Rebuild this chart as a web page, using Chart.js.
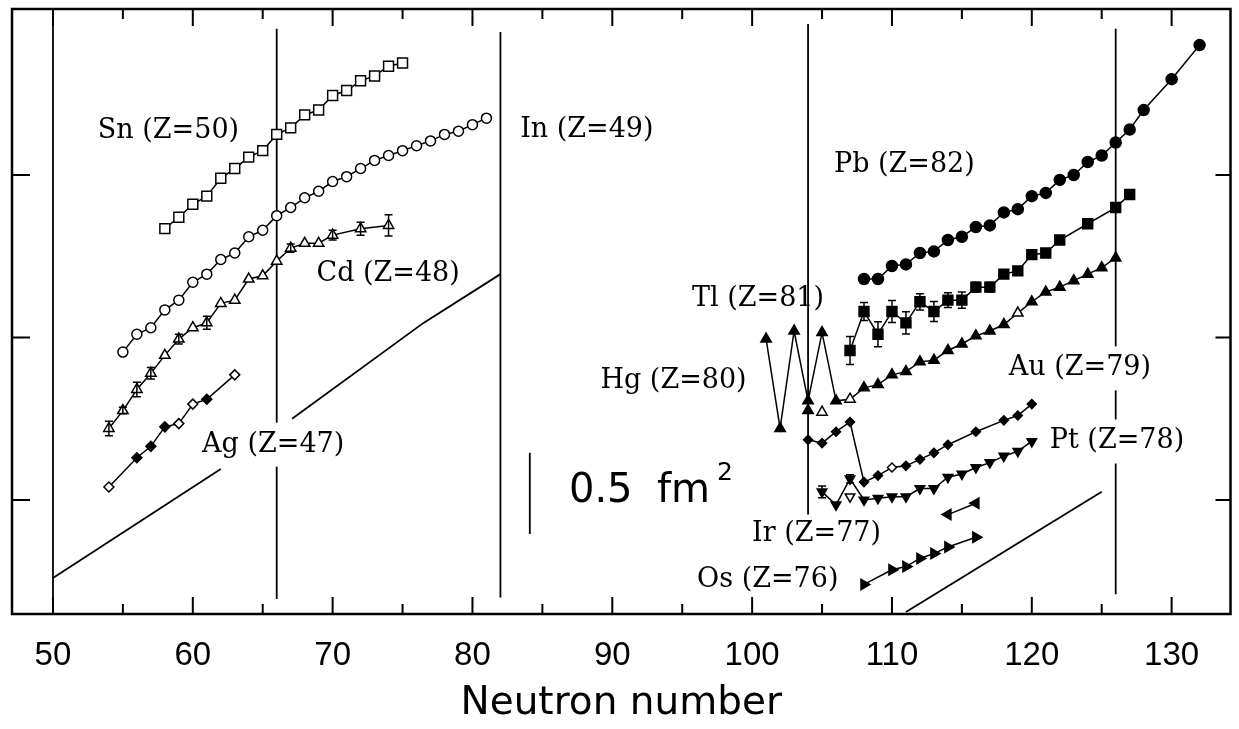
<!DOCTYPE html>
<html>
<head>
<meta charset="utf-8">
<script src="https://cdn.jsdelivr.net/npm/chart.js"></script>
<style>
  html, body { margin: 0; padding: 0; background: #fff; }
</style>
</head>
<body>
<canvas id="chart" width="1239" height="729"></canvas>
<script>
// charge radii differences vs neutron number (fm^2, arbitrary offsets)
var snN = [58, 59, 60, 61, 62, 63, 64, 65, 66, 67, 68, 69, 70, 71, 72, 73, 74, 75];
var snY = [2.67, 2.74, 2.82, 2.87, 2.98, 3.04, 3.11, 3.15, 3.25, 3.29, 3.37, 3.40, 3.49, 3.52, 3.58, 3.61, 3.67, 3.69];

var inN = [55, 56, 57, 58, 59, 60, 61, 62, 63, 64, 65, 66, 67, 68, 69, 70, 71, 72, 73, 74, 75, 76, 77, 78, 79, 80, 81];
var inY = [1.91, 2.02, 2.06, 2.17, 2.23, 2.34, 2.39, 2.48, 2.52, 2.62, 2.66, 2.75, 2.80, 2.86, 2.90, 2.96, 2.99, 3.04, 3.09, 3.12, 3.15, 3.18, 3.21, 3.25, 3.27, 3.31, 3.35];

var cdN = [54, 55, 56, 57, 58, 59, 60, 61, 62, 63, 64, 65, 66, 67, 68, 69, 70, 72, 74];
var cdY = [1.44, 1.55, 1.68, 1.78, 1.89, 1.99, 2.06, 2.09, 2.21, 2.23, 2.36, 2.38, 2.47, 2.55, 2.58, 2.58, 2.63, 2.67, 2.69];
var cdErr = [0.045, 0.02, 0.045, 0.035, 0, 0.03, 0, 0.04, 0, 0, 0, 0, 0, 0.025, 0, 0, 0.03, 0.04, 0.065];

var agN = [54, 56, 57, 58, 59, 60, 61, 63];
var agY = [1.08, 1.26, 1.33, 1.45, 1.47, 1.59, 1.62, 1.77];
var agFilled = [0, 1, 1, 1, 0, 0, 1, 0];

var pbN = [108, 109, 110, 111, 112, 113, 114, 115, 116, 117, 118, 119, 120, 121, 122, 123, 124, 125, 126, 127, 128, 130, 132];
var pbY = [2.36, 2.36, 2.44, 2.45, 2.52, 2.53, 2.60, 2.62, 2.68, 2.69, 2.77, 2.79, 2.87, 2.89, 2.97, 3.00, 3.08, 3.12, 3.20, 3.28, 3.40, 3.59, 3.80];

var tlN = [107, 108, 109, 110, 111, 112, 113, 114, 115, 116, 117, 118, 119, 120, 121, 122, 124, 126, 127];
var tlY = [1.92, 2.16, 2.02, 2.16, 2.09, 2.22, 2.16, 2.23, 2.23, 2.31, 2.31, 2.39, 2.41, 2.51, 2.52, 2.60, 2.70, 2.80, 2.88];
var tlErr = [0.086, 0.055, 0.077, 0.068, 0.068, 0.05, 0.062, 0.046, 0.05, 0.03, 0.03, 0.02, 0.02, 0.02, 0, 0, 0, 0, 0];

var hgN = [101, 102, 103, 104, 105, 106, 107, 108, 109, 110, 111, 112, 113, 114, 115, 116, 117, 118, 119, 120, 121, 122, 123, 124, 125, 126];
var hgY = [1.99, 1.44, 2.04, 1.61, 2.03, 1.61, 1.62, 1.69, 1.71, 1.77, 1.79, 1.85, 1.86, 1.92, 1.96, 2.01, 2.04, 2.08, 2.15, 2.22, 2.28, 2.31, 2.35, 2.39, 2.43, 2.49];
var hgOpenN = [107, 119];
var hgIsoN = [104, 105];
var hgIsoY = [1.55, 1.54];

var auN = [104, 105, 106, 107, 108, 109, 110, 111, 112, 113, 114, 116, 118, 119, 120];
var auY = [1.37, 1.35, 1.42, 1.48, 1.11, 1.15, 1.20, 1.21, 1.25, 1.29, 1.34, 1.42, 1.49, 1.52, 1.59];

var ptN = [105, 106, 107, 108, 109, 110, 111, 112, 113, 114, 115, 116, 117, 118, 119, 120];
var ptY = [1.05, 0.97, 1.13, 1.00, 1.01, 1.02, 1.02, 1.07, 1.07, 1.14, 1.16, 1.20, 1.23, 1.27, 1.30, 1.36];
var ptErr = [0.036, 0, 0.025, 0, 0, 0, 0, 0, 0, 0, 0, 0, 0, 0, 0, 0];
var ptIsoN = [107];
var ptIsoY = [1.02];

var irN = [114, 116];
var irY = [0.91, 0.98];

var osN = [108, 110, 111, 112, 113, 114, 116];
var osY = [0.48, 0.57, 0.59, 0.64, 0.67, 0.71, 0.77];

// magic / mid-shell neutron numbers
var magicN = [50, 66, 82, 104, 126];
var magicTop = [4.02, 3.90, 3.88, 3.93, 3.90];
var magicBottom = [0.298, 0.39, 0.40, 0.91, 0.42];

// droplet model reference lines
var dropN1 = [50, 62, 64.5, 67.1, 76.5, 82];
var dropY1 = [0.52, 1.19, null, 1.50, 2.09, 2.39];
var dropN2 = [111, 125];
var dropY2 = [0.31, 1.05];

// 0.5 fm^2 scale bar
var barN = [84.1, 84.1];
var barY = [0.79, 1.29];

var yTicks = [1, 2, 3];

var labelText = ['Sn (Z=50)', 'In (Z=49)', 'Cd (Z=48)', 'Ag (Z=47)', 'Pb (Z=82)', 'Tl (Z=81)',
                 'Hg (Z=80)', 'Au (Z=79)', 'Pt (Z=78)', 'Ir (Z=77)', 'Os (Z=76)'];
var labelN = [58.26, 88.18, 73.97, 65.75, 110.89, 100.42, 94.38, 123.44, 126.09, 104.61, 101.12];
var labelY = [3.27, 3.28, 2.39, 1.34, 3.06, 2.24, 1.73, 1.81, 1.36, 0.79, 0.51];
var labelBox = [0, 0, 0, 1, 0, 0, 0, 1, 1, 0, 0];

function pts(ns, ys) {
  return ns.map(function (n, i) { return { x: n, y: ys[i] }; });
}

function series(ns, ys, extra) {
  return Object.assign({
    data: pts(ns, ys),
    showLine: true,
    borderColor: '#000',
    borderWidth: 1.5,
    pointBorderColor: '#000',
    pointBorderWidth: 1.5,
    pointBackgroundColor: '#fff',
    order: 0
  }, extra);
}

function refLine(ns, ys) {
  return {
    data: pts(ns, ys),
    showLine: true,
    spanGaps: false,
    borderColor: '#000',
    borderWidth: 1.8,
    pointRadius: 0,
    order: 10
  };
}

var datasets = [
  series(snN, snY, { pointStyle: 'rect', pointRadius: 7 }),
  series(inN, inY, { pointStyle: 'circle', pointRadius: 5 }),
  series(cdN, cdY, { pointStyle: 'triangle', pointRadius: 6, errors: cdErr }),
  series(agN, agY, { pointStyle: 'rectRot', pointRadius: 5,
    pointBackgroundColor: agFilled.map(function (f) { return f ? '#000' : '#fff'; }) }),
  series(pbN, pbY, { pointStyle: 'circle', pointRadius: 5.5, pointBackgroundColor: '#000' }),
  series(tlN, tlY, { pointStyle: 'rect', pointRadius: 7, pointBackgroundColor: '#000', errors: tlErr }),
  series(hgN, hgY, { pointStyle: 'triangle', pointRadius: 6,
    pointBackgroundColor: hgN.map(function (n) { return hgOpenN.indexOf(n) >= 0 ? '#fff' : '#000'; }) }),
  series(hgIsoN, hgIsoY, { showLine: false, pointStyle: 'triangle', pointRadius: 6,
    pointBackgroundColor: ['#000', '#fff'] }),
  series(auN, auY, { pointStyle: 'rectRot', pointRadius: 4.5,
    pointBackgroundColor: auN.map(function (n) { return n === 110 ? '#fff' : '#000'; }) }),
  series(ptN, ptY, { pointStyle: 'triangle', pointRotation: 180, pointRadius: 5.5,
    pointBackgroundColor: '#000', errors: ptErr }),
  series(ptIsoN, ptIsoY, { showLine: false, pointStyle: 'triangle', pointRotation: 180, pointRadius: 5.5 }),
  series(irN, irY, { pointStyle: 'triangle', pointRotation: 270, pointRadius: 6, pointBackgroundColor: '#000' }),
  series(osN, osY, { pointStyle: 'triangle', pointRotation: 90, pointRadius: 6, pointBackgroundColor: '#000' }),
  refLine(dropN1, dropY1),
  refLine(dropN2, dropY2),
  refLine(barN, barY)
];
magicN.forEach(function (n, i) {
  datasets.push(refLine([n, n], [magicTop[i], magicBottom[i]]));
});

// frame with inward ticks on all four sides
var framePlugin = {
  id: 'frame',
  beforeDatasetsDraw: function (chart) {
    var ctx = chart.ctx, a = chart.chartArea, x = chart.scales.x, y = chart.scales.y;
    ctx.save();
    ctx.strokeStyle = '#000';
    ctx.lineWidth = 2.5;
    ctx.strokeRect(a.left, a.top, a.right - a.left, a.bottom - a.top);
    ctx.lineWidth = 2;
    ctx.beginPath();
    x.ticks.forEach(function (t) {
      if (t.value % 5 !== 0) return;
      var px = x.getPixelForValue(t.value);
      var len = t.value % 10 === 0 ? 17 : 10;
      ctx.moveTo(px, a.bottom); ctx.lineTo(px, a.bottom - len);
      ctx.moveTo(px, a.top); ctx.lineTo(px, a.top + len);
    });
    yTicks.forEach(function (v) {
      var py = y.getPixelForValue(v);
      ctx.moveTo(a.left, py); ctx.lineTo(a.left + 18, py);
      ctx.moveTo(a.right, py); ctx.lineTo(a.right - 15, py);
    });
    ctx.stroke();
    ctx.restore();
  }
};

var errorPlugin = {
  id: 'errorBars',
  afterDatasetsDraw: function (chart) {
    var ctx = chart.ctx, y = chart.scales.y;
    chart.data.datasets.forEach(function (ds, i) {
      if (!ds.errors) return;
      var meta = chart.getDatasetMeta(i);
      ctx.save();
      ctx.strokeStyle = '#000';
      ctx.lineWidth = 1.5;
      ctx.beginPath();
      meta.data.forEach(function (p, j) {
        var e = ds.errors[j];
        if (!e) return;
        var v = ds.data[j].y;
        var top = y.getPixelForValue(v + e), bot = y.getPixelForValue(v - e);
        ctx.moveTo(p.x, top); ctx.lineTo(p.x, bot);
        ctx.moveTo(p.x - 4, top); ctx.lineTo(p.x + 4, top);
        ctx.moveTo(p.x - 4, bot); ctx.lineTo(p.x + 4, bot);
      });
      ctx.stroke();
      ctx.restore();
    });
  }
};

var labelPlugin = {
  id: 'labels',
  afterDraw: function (chart) {
    var ctx = chart.ctx, x = chart.scales.x, y = chart.scales.y;
    ctx.save();
    ctx.font = '27px "DejaVu Serif"';
    ctx.textAlign = 'center';
    ctx.textBaseline = 'middle';
    labelText.forEach(function (t, i) {
      var px = x.getPixelForValue(labelN[i]), py = y.getPixelForValue(labelY[i]);
      if (labelBox[i]) {
        var w = ctx.measureText(t).width;
        ctx.fillStyle = '#fff';
        ctx.fillRect(px - w / 2 - 4, py - 22, w + 8, 44);
      }
      ctx.fillStyle = '#000';
      ctx.fillText(t, px, py);
    });
    // scale bar caption
    var sx = x.getPixelForValue(86.9), sy = y.getPixelForValue(0.99);
    ctx.textAlign = 'left';
    ctx.textBaseline = 'alphabetic';
    ctx.font = '40px "DejaVu Sans"';
    ctx.fillText('0.5', sx, sy);
    ctx.fillText('fm', sx + 88, sy);
    ctx.font = '25px "DejaVu Sans"';
    ctx.fillText('2', sx + 148, sy - 22);
    ctx.restore();
  }
};

var ctx = document.getElementById('chart');
var myChart = new Chart(ctx, {
  type: 'scatter',
  data: { datasets: datasets },
  options: {
    responsive: false,
    animation: false,
    devicePixelRatio: 1,
    layout: { padding: { left: 12, right: 7, top: 9, bottom: 0 } },
    plugins: { legend: { display: false }, tooltip: { enabled: false } },
    elements: { line: { tension: 0 } },
    scales: {
      x: {
        type: 'linear',
        min: 47.07,
        max: 134.21,
        grid: { display: false, drawTicks: true, tickLength: 20 },
        border: { display: false },
        ticks: {
          stepSize: 5,
          includeBounds: false,
          autoSkip: false,
          maxRotation: 0,
          padding: 2,
          color: '#000',
          font: { family: "'Liberation Sans Narrow', 'Liberation Sans', sans-serif", size: 33 },
          callback: function (v) { return v % 10 === 0 ? v : ''; }
        },
        title: {
          display: true,
          text: 'Neutron number',
          color: '#000',
          font: { family: "'DejaVu Sans', sans-serif", size: 39 },
          padding: { top: 0, bottom: 2 }
        },
        afterFit: function (s) { s.height = 115; }
      },
      y: { display: false, min: 0.298, max: 4.022 }
    }
  },
  plugins: [framePlugin, errorPlugin, labelPlugin]
});
</script>
</body>
</html>
